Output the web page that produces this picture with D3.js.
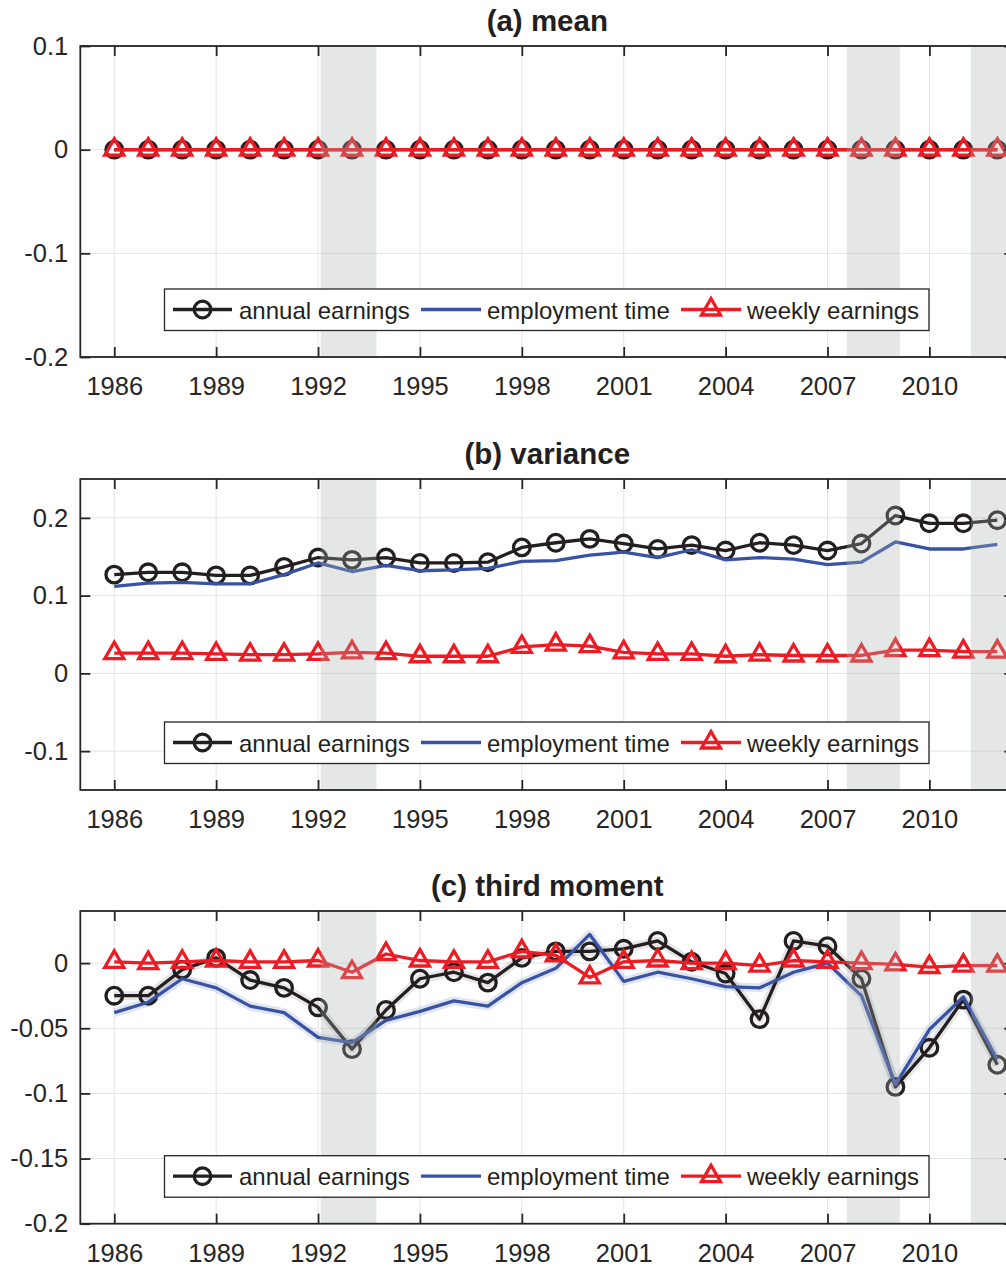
<!DOCTYPE html>
<html>
<head>
<meta charset="utf-8">
<script src="https://cdn.jsdelivr.net/npm/d3@7"></script>
<style>
  body { margin: 0; background: #fff; }
  svg { display: block; }
  text { font-family: "Liberation Sans", Arial, Helvetica, sans-serif; }
</style>
</head>
<body>
<svg id="fig" width="1006" height="1268"></svg>
<script>
// ---- data ----------------------------------------------------------------
const years = [1986, 1987, 1988, 1989, 1990, 1991, 1992, 1993, 1994, 1995, 1996, 1997, 1998,
               1999, 2000, 2001, 2002, 2003, 2004, 2005, 2006, 2007, 2008, 2009, 2010, 2011, 2012];

const xTickYears = [1986, 1989, 1992, 1995, 1998, 2001, 2004, 2007, 2010];

// recession periods (start, end) in fractional years
const recessionStarts = [1992.08, 2007.57, 2011.22];
const recessionEnds   = [1993.72, 2009.13, 2013.00];

const seriesNames = ["annual earnings", "employment time", "weekly earnings"];

// (a) mean
const meanAnnual     = [0, 0, 0, 0, 0, 0, 0, 0, 0, 0, 0, 0, 0, 0, 0, 0, 0, 0, 0, 0, 0, 0, 0, 0, 0, 0, 0];
const meanEmployment = [0, 0, 0, 0, 0, 0, 0, 0, 0, 0, 0, 0, 0, 0, 0, 0, 0, 0, 0, 0, 0, 0, 0, 0, 0, 0, 0];
const meanWeekly     = [0, 0, 0, 0, 0, 0, 0, 0, 0, 0, 0, 0, 0, 0, 0, 0, 0, 0, 0, 0, 0, 0, 0, 0, 0, 0, 0];
const meanTicks      = [-0.2, -0.1, 0, 0.1];
const meanTickLabels = ["-0.2", "-0.1", "0", "0.1"];

// (b) variance
const varAnnual     = [0.127, 0.130, 0.130, 0.126, 0.126, 0.137, 0.149, 0.146, 0.149, 0.142, 0.142, 0.143, 0.162,
                       0.168, 0.173, 0.167, 0.160, 0.165, 0.158, 0.168, 0.165, 0.158, 0.167, 0.203, 0.193, 0.193, 0.197];
const varEmployment = [0.112, 0.116, 0.117, 0.115, 0.115, 0.127, 0.142, 0.131, 0.139, 0.132, 0.133, 0.135, 0.144,
                       0.145, 0.152, 0.156, 0.149, 0.159, 0.146, 0.149, 0.147, 0.140, 0.143, 0.169, 0.160, 0.160, 0.166];
const varWeekly     = [0.026, 0.026, 0.026, 0.025, 0.024, 0.024, 0.025, 0.027, 0.026, 0.022, 0.022, 0.022, 0.034,
                       0.037, 0.035, 0.027, 0.025, 0.025, 0.022, 0.024, 0.023, 0.023, 0.023, 0.030, 0.030, 0.028, 0.028];
const varTicks      = [-0.1, 0, 0.1, 0.2];
const varTickLabels = ["-0.1", "0", "0.1", "0.2"];

// (c) third moment
const thirdAnnual     = [-0.025, -0.025, -0.005, 0.004, -0.013, -0.019, -0.034, -0.066, -0.036, -0.012, -0.007, -0.015, 0.004,
                         0.009, 0.009, 0.011, 0.017, 0.001, -0.008, -0.043, 0.017, 0.013, -0.012, -0.095, -0.065, -0.028, -0.078];
const thirdEmployment = [-0.038, -0.030, -0.012, -0.019, -0.033, -0.038, -0.057, -0.061, -0.044, -0.037, -0.029, -0.033, -0.015,
                         -0.004, 0.022, -0.014, -0.007, -0.012, -0.018, -0.019, -0.007, 0.000, -0.025, -0.093, -0.051, -0.026, -0.074];
const thirdWeekly     = [0.001, 0.000, 0.001, 0.002, 0.001, 0.001, 0.002, -0.007, 0.007, 0.002, 0.001, 0.001, 0.009,
                         0.006, -0.011, 0.001, 0.002, 0.000, 0.000, -0.002, 0.002, 0.001, 0.000, -0.001, -0.003, -0.002, -0.002];
const thirdTicks      = [-0.2, -0.15, -0.1, -0.05, 0];
const thirdTickLabels = ["-0.2", "-0.15", "-0.1", "-0.05", "0"];

// ---- styling -------------------------------------------------------------
const COLORS = { annual: "#231f20", employment: "#3953a4", weekly: "#ed1c24" };
const AXIS_COLOR = "#262626";
const GRID_COLOR = "#e3e3e3";
const SHADE_COLOR = "#a9b0ad";
const SHADE_OPACITY = 0.3;

const svg = d3.select("#fig");

const x = d3.scaleLinear().domain([1985, 2012.5]).range([80.3, 1014.3]);

const panels = [
  { title: "(a) mean",         top: 46,  bottom: 357,   domain: [-0.2, 0.1],
    annual: meanAnnual, employment: meanEmployment, weekly: meanWeekly,
    ticks: meanTicks, tickLabels: meanTickLabels, halo: false },
  { title: "(b) variance",     top: 479, bottom: 790,   domain: [-0.15, 0.25],
    annual: varAnnual, employment: varEmployment, weekly: varWeekly,
    ticks: varTicks, tickLabels: varTickLabels, halo: false },
  { title: "(c) third moment", top: 911, bottom: 1223.7, domain: [-0.2, 0.04],
    annual: thirdAnnual, employment: thirdEmployment, weekly: thirdWeekly,
    ticks: thirdTicks, tickLabels: thirdTickLabels, halo: true }
];

// upward triangle with its centroid at the origin
function trianglePath(side) {
  const h = side * Math.sqrt(3) / 2;
  return `M0,${-2 * h / 3}L${side / 2},${h / 3}L${-side / 2},${h / 3}Z`;
}
const TRI = trianglePath(19);
const CIRCLE_R = 8.3;
const LINE_W = 3.3;

function drawPanel(p) {
  const y = d3.scaleLinear().domain(p.domain).range([p.bottom, p.top]);
  const [x0, x1] = x.range();
  const g = svg.append("g");

  const clipId = "clip" + p.top;
  svg.append("clipPath").attr("id", clipId)
    .append("rect").attr("x", x0).attr("y", p.top).attr("width", x1 - x0).attr("height", p.bottom - p.top);

  // grid
  const grid = g.append("g").attr("stroke", GRID_COLOR).attr("stroke-width", 1);
  grid.selectAll("line.gx").data(xTickYears).join("line")
    .attr("x1", d => x(d)).attr("x2", d => x(d)).attr("y1", p.top).attr("y2", p.bottom);
  grid.selectAll("line.gy").data(p.ticks).join("line")
    .attr("x1", x0).attr("x2", x1).attr("y1", d => y(d)).attr("y2", d => y(d));

  const plot = g.append("g").attr("clip-path", `url(#${clipId})`);

  const pts = key => years.map((yr, i) => [yr, p[key][i]]);
  const line = d3.line().x(d => x(d[0])).y(d => y(d[1]));

  if (p.halo) {
    plot.append("path").attr("d", line(pts("annual"))).attr("fill", "none")
      .attr("stroke", COLORS.annual).attr("stroke-opacity", 0.11).attr("stroke-width", 9)
      .attr("stroke-linejoin", "round");
    plot.append("path").attr("d", line(pts("employment"))).attr("fill", "none")
      .attr("stroke", COLORS.employment).attr("stroke-opacity", 0.15).attr("stroke-width", 9)
      .attr("stroke-linejoin", "round");
  }

  // annual earnings: line + open circles
  plot.append("path").attr("d", line(pts("annual"))).attr("fill", "none")
    .attr("stroke", COLORS.annual).attr("stroke-width", LINE_W).attr("stroke-linejoin", "round");
  plot.selectAll("circle.m").data(pts("annual")).join("circle")
    .attr("cx", d => x(d[0])).attr("cy", d => y(d[1])).attr("r", CIRCLE_R)
    .attr("fill", "none").attr("stroke", COLORS.annual).attr("stroke-width", LINE_W);

  // employment time: line only
  plot.append("path").attr("d", line(pts("employment"))).attr("fill", "none")
    .attr("stroke", COLORS.employment).attr("stroke-width", LINE_W).attr("stroke-linejoin", "round");

  // weekly earnings: line + open triangles
  plot.append("path").attr("d", line(pts("weekly"))).attr("fill", "none")
    .attr("stroke", COLORS.weekly).attr("stroke-width", LINE_W).attr("stroke-linejoin", "round");
  plot.selectAll("path.tri").data(pts("weekly")).join("path")
    .attr("d", TRI).attr("transform", d => `translate(${x(d[0])},${y(d[1])})`)
    .attr("fill", "none").attr("stroke", COLORS.weekly).attr("stroke-width", LINE_W)
    .attr("stroke-linejoin", "miter");

  // recession shading on top
  plot.selectAll("rect.shade").data(recessionStarts).join("rect")
    .attr("x", d => x(d)).attr("y", p.top)
    .attr("width", (d, i) => x(recessionEnds[i]) - x(d)).attr("height", p.bottom - p.top)
    .attr("fill", SHADE_COLOR).attr("fill-opacity", SHADE_OPACITY);

  // box
  g.append("rect").attr("x", x0).attr("y", p.top).attr("width", x1 - x0).attr("height", p.bottom - p.top)
    .attr("fill", "none").attr("stroke", AXIS_COLOR).attr("stroke-width", 1.8);

  // axes with inward ticks
  const tickLen = 10;
  const axB = g.append("g").attr("transform", `translate(0,${p.bottom})`)
    .call(d3.axisBottom(x).tickValues(xTickYears).tickFormat(d3.format("d")).tickSizeInner(-tickLen).tickSizeOuter(0).tickPadding(20));
  const axT = g.append("g").attr("transform", `translate(0,${p.top})`)
    .call(d3.axisTop(x).tickValues(xTickYears).tickFormat("").tickSizeInner(-tickLen).tickSizeOuter(0));
  const axL = g.append("g").attr("transform", `translate(${x0},0)`)
    .call(d3.axisLeft(y).tickValues(p.ticks).tickFormat((d, i) => p.tickLabels[i]).tickSizeInner(-tickLen).tickSizeOuter(0).tickPadding(12));
  const axR = g.append("g").attr("transform", `translate(${x1},0)`)
    .call(d3.axisRight(y).tickValues(p.ticks).tickFormat("").tickSizeInner(-tickLen).tickSizeOuter(0));
  [axB, axT, axL, axR].forEach(a => {
    a.select(".domain").remove();
    a.selectAll(".tick line").attr("stroke", AXIS_COLOR).attr("stroke-width", 1.8);
    a.selectAll(".tick text").attr("fill", AXIS_COLOR).style("font-size", "25.5px")
      .style("font-family", '"Liberation Sans", Arial, sans-serif');
  });
  axB.selectAll(".tick text").attr("dy", "0.71em");

  // title
  g.append("text").attr("x", (x0 + x1) / 2).attr("y", p.top - 15)
    .attr("text-anchor", "middle").attr("font-weight", "bold").attr("font-size", 29.5)
    .attr("fill", "#231f20").text(p.title);

  // legend
  const lg = g.append("g").attr("transform", `translate(0,${p.bottom - 68})`);
  lg.append("rect").attr("x", 164.5).attr("y", 0).attr("width", 764.5).attr("height", 41.5)
    .attr("fill", "#fff").attr("stroke", AXIS_COLOR).attr("stroke-width", 1.3);
  const cy = 20.5;
  const entries = [
    { key: "annual",     x0: 173, x1: 232, tx: 239 },
    { key: "employment", x0: 421, x1: 481, tx: 487 },
    { key: "weekly",     x0: 681, x1: 741, tx: 747 }
  ];
  entries.forEach((e, i) => {
    lg.append("line").attr("x1", e.x0).attr("x2", e.x1).attr("y1", cy).attr("y2", cy)
      .attr("stroke", COLORS[e.key]).attr("stroke-width", LINE_W);
    const mx = (e.x0 + e.x1) / 2;
    if (e.key === "annual") {
      lg.append("circle").attr("cx", mx).attr("cy", cy).attr("r", CIRCLE_R)
        .attr("fill", "none").attr("stroke", COLORS.annual).attr("stroke-width", LINE_W);
    } else if (e.key === "weekly") {
      lg.append("path").attr("d", TRI).attr("transform", `translate(${mx},${cy})`)
        .attr("fill", "none").attr("stroke", COLORS.weekly).attr("stroke-width", LINE_W);
    }
    lg.append("text").attr("x", e.tx).attr("y", cy).attr("dy", "0.38em")
      .attr("font-size", 24).attr("fill", "#231f20").text(seriesNames[i]);
  });
}

panels.forEach(drawPanel);
</script>
</body>
</html>
